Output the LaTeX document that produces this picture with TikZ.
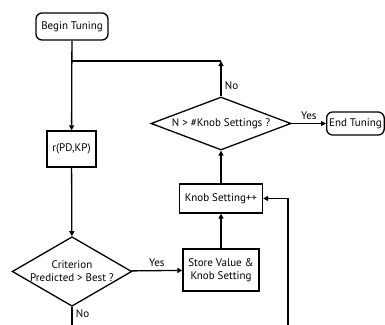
\documentclass[tikz,border=0pt]{standalone}
\usepackage{fontspec}
\setmainfont{PT Sans}
\usetikzlibrary{shapes.geometric,arrows.meta}

\begin{document}
\begin{tikzpicture}[x=1pt, y=-1pt, line width=1.3pt, >={Triangle[length=5pt,width=5pt]},
	every node/.style={font=\fontsize{11}{13}\selectfont},
	term/.style={draw, rounded corners=6pt, inner sep=0pt},
	proc/.style={draw, inner sep=0pt, align=center},
	dec/.style={draw, diamond, inner sep=0pt, align=center}]
	\clip (0,0) rectangle (385,324);
	\node[term, minimum width=72pt, minimum height=27pt] (begin) at (72,26.5) {Begin Tuning};
	\node[proc, minimum width=49pt, minimum height=36pt] (rpk) at (71.5,149) {r(PD,KP)};
	\node[dec, aspect=1.72, minimum width=112pt, minimum height=65pt] (crit) at (72,271.5) {Criterion\\Predicted > Best ?};
	\node[proc, minimum width=76pt, minimum height=42pt] (store) at (221,270) {Store Value \&\\Knob Setting};
	\node[proc, minimum width=83pt, minimum height=29pt] (knob) at (221,198.5) {Knob Setting++};
	\node[dec, aspect=2.64, minimum width=140pt, minimum height=53pt] (nset) at (221,123.5) {N > \#Knob Settings ?};
	\node[term, inner xsep=2.5pt, minimum height=23pt, anchor=west] (endt) at (326,123.5) {End Tuning};
	\coordinate (jr) at (221,61);
	\coordinate (jl) at (72,61);
	\coordinate (cb) at (72,330);
	\coordinate (fb) at (288,330);
	\draw[->] (begin) -- (rpk);
	\draw[->] (rpk) -- (crit);
	\draw[->] (crit) -- (store) node[midway, above] {Yes};
	\draw[->] (store) -- (knob);
	\draw[->] (knob) -- (nset);
	\draw[->] (nset) -- (endt) node[midway, above] {Yes};
	\draw[->] (nset) -- (jr) node[pos=0.3, right] {No};
	\draw (jr) -- (jl);
	\draw (crit) -- (cb) node[pos=0.3, right] {No};
	\draw[->] (fb) |- (knob);
\end{tikzpicture}
\end{document}
